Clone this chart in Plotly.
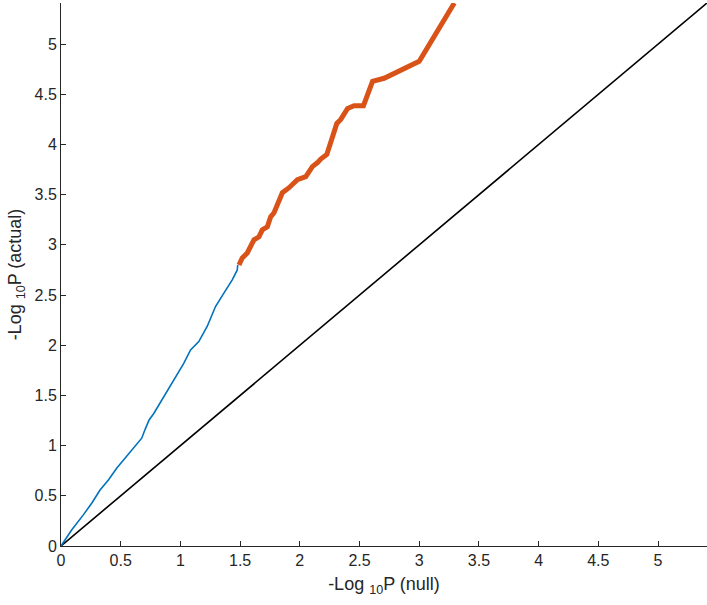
import plotly.graph_objects as go

# Blue series: bulk of the QQ points (-log10 P null vs actual)
blue_x = [0.0, 0.089, 0.187, 0.257, 0.327, 0.397, 0.466, 0.537, 0.62, 0.676, 0.707,
          0.738, 0.777, 0.861, 0.945, 1.028, 1.085, 1.154, 1.225, 1.294, 1.364,
          1.434, 1.476, 1.48]
blue_y = [0.0, 0.16, 0.31, 0.426, 0.558, 0.658, 0.775, 0.874, 0.99, 1.074, 1.17,
          1.256, 1.32, 1.49, 1.655, 1.82, 1.954, 2.037, 2.19, 2.386, 2.52,
          2.652, 2.75, 2.80]

# Orange series: top tail
orange_x = [1.49, 1.518, 1.56, 1.616, 1.658, 1.686, 1.728, 1.756, 1.784, 1.854,
            1.91, 1.98, 2.05, 2.105, 2.148, 2.175, 2.226, 2.26, 2.31, 2.343,
            2.40, 2.455, 2.533, 2.609, 2.706, 3.0, 3.294]
orange_y = [2.80, 2.87, 2.92, 3.05, 3.08, 3.15, 3.18, 3.28, 3.32, 3.52,
            3.57, 3.65, 3.68, 3.78, 3.82, 3.855, 3.90, 4.015, 4.21, 4.25,
            4.36, 4.387, 4.387, 4.63, 4.66, 4.83, 5.41]

x_ticks = [0, 0.5, 1, 1.5, 2, 2.5, 3, 3.5, 4, 4.5, 5]
y_ticks = [0, 0.5, 1, 1.5, 2, 2.5, 3, 3.5, 4, 4.5, 5]

axis_max = max(max(orange_y), max(orange_x))
diag = [0, axis_max]

fig = go.Figure()
fig.add_trace(go.Scatter(x=diag, y=diag, mode="lines",
                         line=dict(color="black", width=1.6), hoverinfo="skip"))
fig.add_trace(go.Scatter(x=blue_x, y=blue_y, mode="lines",
                         line=dict(color="#0072BD", width=1.6)))
fig.add_trace(go.Scatter(x=orange_x, y=orange_y, mode="lines",
                         line=dict(color="#D95319", width=5)))

font = dict(family="Liberation Sans, Arial, Helvetica, sans-serif", size=16, color="#262626")
title_font = dict(family="Liberation Sans, Arial, Helvetica, sans-serif", size=18, color="#262626")
axis_common = dict(
    showgrid=False, zeroline=False, showline=True, linecolor="#262626", linewidth=1,
    ticks="inside", ticklen=5, tickcolor="#262626", tickwidth=1,
    tickfont=font, mirror=False, range=[0, axis_max], automargin=False,
)
fig.update_xaxes(**axis_common, tickvals=x_ticks,
                 ticktext=[f"{v:g}" for v in x_ticks],
                 title=dict(text="-Log <sub>10</sub>P (null)", font=title_font, standoff=9))
fig.update_yaxes(**axis_common, tickvals=y_ticks,
                 ticktext=[f"{v:g}" for v in y_ticks],
                 title=dict(text="-Log <sub>10</sub>P (actual)", font=title_font, standoff=8))

fig.update_layout(
    width=707, height=605,
    margin=dict(l=61, r=0, t=3, b=59),
    paper_bgcolor="white", plot_bgcolor="white",
    showlegend=False, font=font,
)
fig.write_html("out.html", config={"displayModeBar": False},
               post_script="document.body.style.margin='0';document.body.style.overflow='hidden';")
